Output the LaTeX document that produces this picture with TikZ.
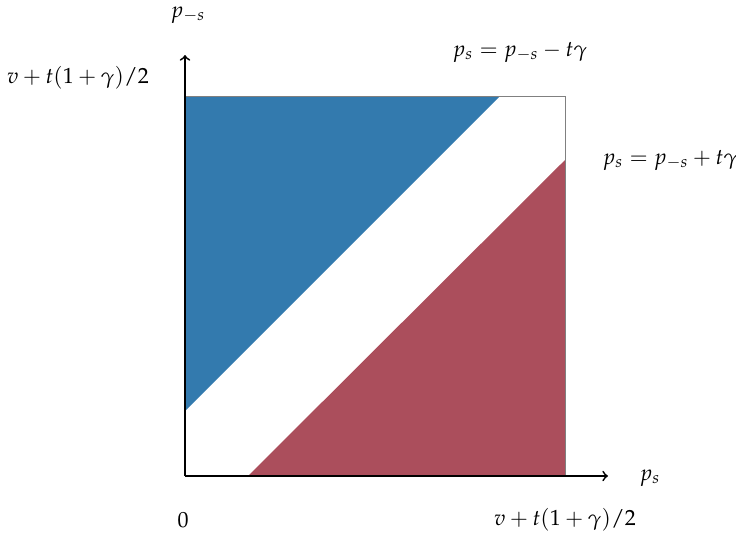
\documentclass[tikz,border=0pt]{standalone}
\usepackage{mathpazo}
\definecolor{regionblue}{RGB}{51,122,174}
\definecolor{regionred}{RGB}{171,78,92}
\begin{document}
\begin{tikzpicture}[x=0.016cm, y=-0.016cm]
        \useasboundingbox (0,0) rectangle (736,536);
        \coordinate (o) at (185,476);
        \coordinate (xend) at (608,476);
        \coordinate (yend) at (185,55);
        \coordinate (tl) at (185,96);
        \coordinate (tr) at (565,96);
        \coordinate (br) at (565,476);
        
        \fill[regionblue] (tl) -- (500,96) -- (185,411) -- cycle;
        \fill[regionred] (248,476) -- (br) -- (565,160) -- cycle;
        \draw[gray, thin] (tl) -- (tr) -- (br);
        \draw[->, thick] (o) -- (xend);
        \draw[->, thick] (o) -- (yend);
        
        \node (ylab) at (188,15) {$p_{-s}$};
        \node (xlab) at (650,478) {$p_s$};
        \node (ymaxlab) at (78,78) {$v+t(1+\gamma)/2$};
        \node (xmaxlab) at (565,520) {$v+t(1+\gamma)/2$};
        \node (zero) at (183,520) {$0$};
        \node (upper) at (520,52) {$p_s=p_{-s}-t\gamma$};
        \node (lower) at (670,160) {$p_s=p_{-s}+t\gamma$};
    \end{tikzpicture}
\end{document}
